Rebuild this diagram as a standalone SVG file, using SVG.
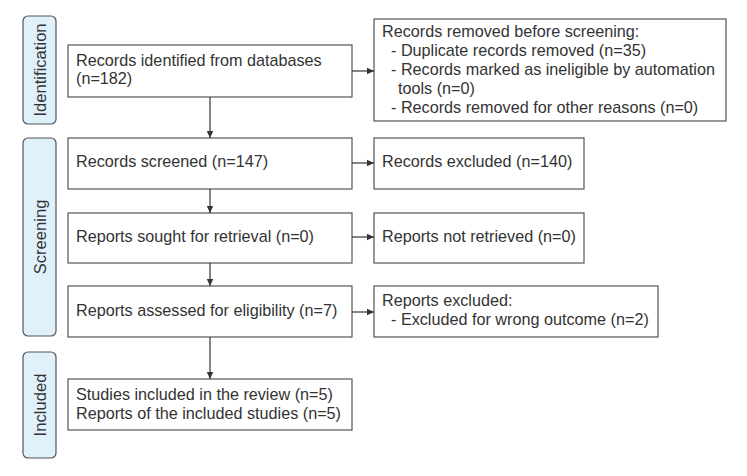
<svg xmlns="http://www.w3.org/2000/svg" width="747" height="476" viewBox="0 0 747 476">
<style>
.box{fill:#fff;stroke:#555;stroke-width:1.2}
.lab{fill:#e1f1fb;stroke:#555;stroke-width:1.2}
.t{font-family:"Liberation Sans",Arial,sans-serif;font-size:16.2px;fill:#333}
.vt{font-family:"Liberation Sans",Arial,sans-serif;font-size:16.6px;fill:#333;text-anchor:middle}
.c{stroke:#333;stroke-width:1.2;fill:none}
</style>
<defs>
<marker id="ah" markerWidth="8" markerHeight="8" refX="7" refY="4" orient="auto" markerUnits="userSpaceOnUse">
<path d="M0,0.8 L7,4 L0,7.2 Z" fill="#333"/>
</marker>
</defs>
<rect width="747" height="476" fill="#fff"/>
<g id="phase-identification">
<rect class="lab" x="23" y="16" width="33" height="108" rx="5"/>
<text class="vt" transform="translate(45.5,70) rotate(-90)">Identification</text>
</g>
<g id="phase-screening">
<rect class="lab" x="23" y="138" width="33" height="198" rx="5"/>
<text class="vt" transform="translate(45.5,237) rotate(-90)">Screening</text>
</g>
<g id="phase-included">
<rect class="lab" x="23" y="352" width="33" height="106" rx="5"/>
<text class="vt" transform="translate(45.5,405) rotate(-90)">Included</text>
</g>
<g id="identified">
<rect class="box" x="68" y="45" width="284" height="52"/>
<text class="t" x="76" y="66">Records identified from databases</text>
<text class="t" x="76" y="84">(n=182)</text>
</g>
<g id="removed">
<rect class="box" x="374" y="19" width="352" height="102"/>
<text class="t" x="382" y="37">Records removed before screening:</text>
<text class="t" x="391" y="56">- Duplicate records removed (n=35)</text>
<text class="t" x="391" y="75">- Records marked as ineligible by automation</text>
<text class="t" x="398" y="94">tools (n=0)</text>
<text class="t" x="391" y="113">- Records removed for other reasons (n=0)</text>
</g>
<g id="screened">
<rect class="box" x="68" y="138" width="284" height="51"/>
<text class="t" x="76" y="167">Records screened (n=147)</text>
</g>
<g id="excluded">
<rect class="box" x="374" y="138" width="210" height="51"/>
<text class="t" x="382" y="167">Records excluded (n=140)</text>
</g>
<g id="sought">
<rect class="box" x="68" y="213" width="284" height="50"/>
<text class="t" x="76" y="242">Reports sought for retrieval (n=0)</text>
</g>
<g id="not-retrieved">
<rect class="box" x="374" y="213" width="210" height="50"/>
<text class="t" x="382" y="242">Reports not retrieved (n=0)</text>
</g>
<g id="assessed">
<rect class="box" x="68" y="286" width="284" height="51"/>
<text class="t" x="76" y="316">Reports assessed for eligibility (n=7)</text>
</g>
<g id="reports-excluded">
<rect class="box" x="374" y="286" width="284" height="51"/>
<text class="t" x="382" y="306">Reports excluded:</text>
<text class="t" x="391" y="325">- Excluded for wrong outcome (n=2)</text>
</g>
<g id="included">
<rect class="box" x="68" y="379" width="284" height="51"/>
<text class="t" x="76" y="400">Studies included in the review (n=5)</text>
<text class="t" x="76" y="419">Reports of the included studies (n=5)</text>
</g>
<g id="connectors">
<line class="c" x1="352" y1="71" x2="374" y2="71" marker-end="url(#ah)"/>
<line class="c" x1="210" y1="97" x2="210" y2="138" marker-end="url(#ah)"/>
<line class="c" x1="352" y1="163" x2="374" y2="163" marker-end="url(#ah)"/>
<line class="c" x1="210" y1="189" x2="210" y2="213" marker-end="url(#ah)"/>
<line class="c" x1="352" y1="237" x2="374" y2="237" marker-end="url(#ah)"/>
<line class="c" x1="210" y1="263" x2="210" y2="286" marker-end="url(#ah)"/>
<line class="c" x1="352" y1="312" x2="374" y2="312" marker-end="url(#ah)"/>
<line class="c" x1="210" y1="337" x2="210" y2="379" marker-end="url(#ah)"/>
</g>
</svg>
